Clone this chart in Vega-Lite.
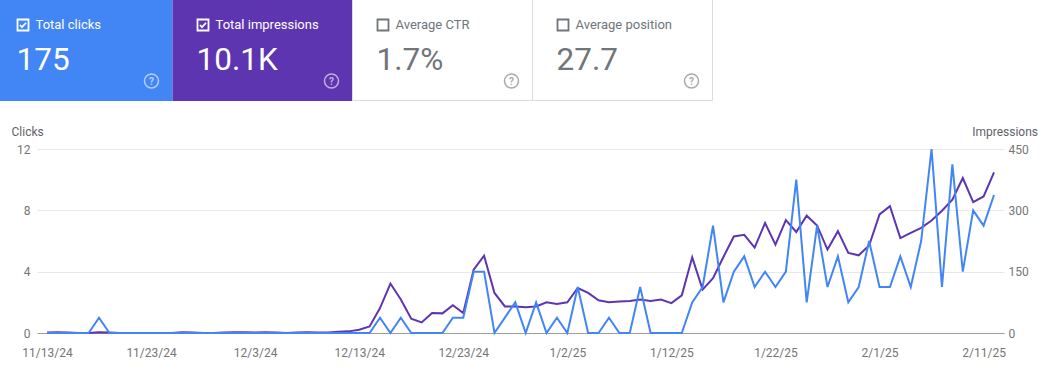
{
  "$schema": "https://vega.github.io/schema/vega-lite/v6.json",
  "padding": 0,
  "background": "white",
  "spacing": 24,
  "config": {"view": {"stroke": null}, "font": "Roboto"},
  "vconcat": [
    {
      "width": 713,
      "height": 101,
      "data": {"values": [
        {"card": "Total clicks", "value": "175", "state": "on"},
        {"card": "Total impressions", "value": "10.1K", "state": "on"},
        {"card": "Average CTR", "value": "1.7%", "state": "off"},
        {"card": "Average position", "value": "27.7", "state": "off"}
      ]},
      "encoding": {
        "x": {"field": "card", "type": "nominal", "sort": null, "axis": null,
              "scale": {"range": [-7.5, 712.5], "paddingInner": 0, "paddingOuter": 0}}
      },
      "layer": [
        {
          "mark": {"type": "rect", "clip": true},
          "encoding": {
            "fill": {"field": "card", "type": "nominal", "sort": null, "legend": null,
                     "scale": {"range": ["#4285f4", "#5e35b1", "#ffffff", "#ffffff"]}}
          }
        },
        {
          "transform": [{"filter": "datum.state === 'off'"}],
          "mark": {"type": "rect", "clip": true, "filled": false, "stroke": "#dadce0", "strokeWidth": 1, "y": -1, "y2": 100.5}
        },
        {
          "mark": {"type": "point", "shape": "square", "filled": false, "size": 121, "strokeWidth": 1.8, "xOffset": 30.5, "y": 25, "opacity": 1},
          "encoding": {
            "x": {"field": "card", "type": "nominal", "bandPosition": 0},
            "color": {"field": "state", "type": "nominal", "legend": null,
                      "scale": {"domain": ["on", "off"], "range": ["#ffffff", "#70757a"]}}
          }
        },
        {
          "transform": [{"filter": "datum.state === 'on'"}],
          "mark": {"type": "point", "shape": "M-0.6,0 L-0.2,0.42 L0.62,-0.45", "filled": false, "size": 100, "strokeWidth": 1.8, "xOffset": 30.5, "y": 25, "opacity": 1},
          "encoding": {
            "x": {"field": "card", "type": "nominal", "bandPosition": 0},
            "color": {"field": "state", "type": "nominal", "legend": null}
          }
        },
        {
          "mark": {"type": "text", "align": "left", "baseline": "alphabetic", "dx": 43, "y": 28.5, "fontSize": 13, "font": "Roboto"},
          "encoding": {
            "x": {"field": "card", "type": "nominal", "bandPosition": 0},
            "text": {"field": "card"},
            "color": {"field": "state", "type": "nominal", "legend": null}
          }
        },
        {
          "mark": {"type": "text", "align": "left", "baseline": "alphabetic", "dx": 24, "y": 70, "fontSize": 31.5, "font": "Roboto"},
          "encoding": {
            "x": {"field": "card", "type": "nominal", "bandPosition": 0},
            "text": {"field": "value"},
            "color": {"field": "state", "type": "nominal", "legend": null}
          }
        },
        {
          "mark": {"type": "point", "shape": "circle", "filled": false, "size": 196, "strokeWidth": 1.5, "xOffset": -21, "y": 81, "opacity": 0.6},
          "encoding": {
            "x": {"field": "card", "type": "nominal", "bandPosition": 1},
            "color": {"field": "state", "type": "nominal", "legend": null}
          }
        },
        {
          "mark": {"type": "text", "align": "center", "baseline": "middle", "dx": -21, "y": 81.5, "fontSize": 10, "fontWeight": "bold", "font": "Roboto", "text": "?", "opacity": 0.6},
          "encoding": {
            "x": {"field": "card", "type": "nominal", "bandPosition": 1},
            "color": {"field": "state", "type": "nominal", "legend": null}
          }
        }
      ]
    },
    {
      "spacing": 0,
      "hconcat": [
        {
          "width": 1,
          "height": 1,
          "data": {"values": []},
          "mark": "point",
          "encoding": {}
        },
        {
          "width": 967,
          "height": 184,
          "data": {"values": [
            {"date": "2024-11-13", "clicks": 0, "impressions": 1},
            {"date": "2024-11-14", "clicks": 0, "impressions": 2},
            {"date": "2024-11-15", "clicks": 0, "impressions": 1},
            {"date": "2024-11-16", "clicks": 0, "impressions": 0},
            {"date": "2024-11-17", "clicks": 0, "impressions": 0},
            {"date": "2024-11-18", "clicks": 1, "impressions": 2},
            {"date": "2024-11-19", "clicks": 0, "impressions": 1},
            {"date": "2024-11-20", "clicks": 0, "impressions": 0},
            {"date": "2024-11-21", "clicks": 0, "impressions": 0},
            {"date": "2024-11-22", "clicks": 0, "impressions": 0},
            {"date": "2024-11-23", "clicks": 0, "impressions": 0},
            {"date": "2024-11-24", "clicks": 0, "impressions": 0},
            {"date": "2024-11-25", "clicks": 0, "impressions": 0},
            {"date": "2024-11-26", "clicks": 0, "impressions": 2},
            {"date": "2024-11-27", "clicks": 0, "impressions": 1},
            {"date": "2024-11-28", "clicks": 0, "impressions": 0},
            {"date": "2024-11-29", "clicks": 0, "impressions": 0},
            {"date": "2024-11-30", "clicks": 0, "impressions": 1},
            {"date": "2024-12-01", "clicks": 0, "impressions": 2},
            {"date": "2024-12-02", "clicks": 0, "impressions": 2},
            {"date": "2024-12-03", "clicks": 0, "impressions": 1},
            {"date": "2024-12-04", "clicks": 0, "impressions": 2},
            {"date": "2024-12-05", "clicks": 0, "impressions": 1},
            {"date": "2024-12-06", "clicks": 0, "impressions": 0},
            {"date": "2024-12-07", "clicks": 0, "impressions": 1},
            {"date": "2024-12-08", "clicks": 0, "impressions": 2},
            {"date": "2024-12-09", "clicks": 0, "impressions": 1},
            {"date": "2024-12-10", "clicks": 0, "impressions": 1},
            {"date": "2024-12-11", "clicks": 0, "impressions": 3},
            {"date": "2024-12-12", "clicks": 0, "impressions": 4},
            {"date": "2024-12-13", "clicks": 0, "impressions": 8},
            {"date": "2024-12-14", "clicks": 0, "impressions": 16},
            {"date": "2024-12-15", "clicks": 1, "impressions": 61},
            {"date": "2024-12-16", "clicks": 0, "impressions": 121},
            {"date": "2024-12-17", "clicks": 1, "impressions": 82},
            {"date": "2024-12-18", "clicks": 0, "impressions": 35},
            {"date": "2024-12-19", "clicks": 0, "impressions": 26},
            {"date": "2024-12-20", "clicks": 0, "impressions": 49},
            {"date": "2024-12-21", "clicks": 0, "impressions": 48},
            {"date": "2024-12-22", "clicks": 1, "impressions": 68},
            {"date": "2024-12-23", "clicks": 1, "impressions": 49},
            {"date": "2024-12-24", "clicks": 4, "impressions": 155},
            {"date": "2024-12-25", "clicks": 4, "impressions": 189},
            {"date": "2024-12-26", "clicks": 0, "impressions": 98},
            {"date": "2024-12-27", "clicks": 1, "impressions": 65},
            {"date": "2024-12-28", "clicks": 2, "impressions": 65},
            {"date": "2024-12-29", "clicks": 0, "impressions": 63},
            {"date": "2024-12-30", "clicks": 2, "impressions": 65},
            {"date": "2024-12-31", "clicks": 0, "impressions": 75},
            {"date": "2025-01-01", "clicks": 1, "impressions": 71},
            {"date": "2025-01-02", "clicks": 0, "impressions": 75},
            {"date": "2025-01-03", "clicks": 3, "impressions": 110},
            {"date": "2025-01-04", "clicks": 0, "impressions": 98},
            {"date": "2025-01-05", "clicks": 0, "impressions": 80},
            {"date": "2025-01-06", "clicks": 1, "impressions": 75},
            {"date": "2025-01-07", "clicks": 0, "impressions": 77},
            {"date": "2025-01-08", "clicks": 0, "impressions": 78},
            {"date": "2025-01-09", "clicks": 3, "impressions": 82},
            {"date": "2025-01-10", "clicks": 0, "impressions": 78},
            {"date": "2025-01-11", "clicks": 0, "impressions": 82},
            {"date": "2025-01-12", "clicks": 0, "impressions": 73},
            {"date": "2025-01-13", "clicks": 0, "impressions": 92},
            {"date": "2025-01-14", "clicks": 2, "impressions": 185},
            {"date": "2025-01-15", "clicks": 3, "impressions": 106},
            {"date": "2025-01-16", "clicks": 7, "impressions": 134},
            {"date": "2025-01-17", "clicks": 2, "impressions": 186},
            {"date": "2025-01-18", "clicks": 4, "impressions": 236},
            {"date": "2025-01-19", "clicks": 5, "impressions": 240},
            {"date": "2025-01-20", "clicks": 3, "impressions": 209},
            {"date": "2025-01-21", "clicks": 4, "impressions": 269},
            {"date": "2025-01-22", "clicks": 3, "impressions": 216},
            {"date": "2025-01-23", "clicks": 4, "impressions": 276},
            {"date": "2025-01-24", "clicks": 10, "impressions": 247},
            {"date": "2025-01-25", "clicks": 2, "impressions": 287},
            {"date": "2025-01-26", "clicks": 7, "impressions": 263},
            {"date": "2025-01-27", "clicks": 3, "impressions": 204},
            {"date": "2025-01-28", "clicks": 5, "impressions": 249},
            {"date": "2025-01-29", "clicks": 2, "impressions": 196},
            {"date": "2025-01-30", "clicks": 3, "impressions": 190},
            {"date": "2025-01-31", "clicks": 6, "impressions": 214},
            {"date": "2025-02-01", "clicks": 3, "impressions": 290},
            {"date": "2025-02-02", "clicks": 3, "impressions": 310},
            {"date": "2025-02-03", "clicks": 5, "impressions": 232},
            {"date": "2025-02-04", "clicks": 3, "impressions": 245},
            {"date": "2025-02-05", "clicks": 6, "impressions": 257},
            {"date": "2025-02-06", "clicks": 12, "impressions": 275},
            {"date": "2025-02-07", "clicks": 3, "impressions": 299},
            {"date": "2025-02-08", "clicks": 11, "impressions": 326},
            {"date": "2025-02-09", "clicks": 4, "impressions": 379},
            {"date": "2025-02-10", "clicks": 8, "impressions": 320},
            {"date": "2025-02-11", "clicks": 7, "impressions": 334},
            {"date": "2025-02-12", "clicks": 9, "impressions": 393}
          ]},
          "encoding": {
            "x": {
              "field": "date", "type": "temporal",
              "scale": {"type": "utc", "padding": 10, "nice": false},
              "axis": {
                "title": null,
                "values": [
                  {"year": 2024, "month": 11, "date": 13, "utc": true},
                  {"year": 2024, "month": 11, "date": 23, "utc": true},
                  {"year": 2024, "month": 12, "date": 3, "utc": true},
                  {"year": 2024, "month": 12, "date": 13, "utc": true},
                  {"year": 2024, "month": 12, "date": 23, "utc": true},
                  {"year": 2025, "month": 1, "date": 2, "utc": true},
                  {"year": 2025, "month": 1, "date": 12, "utc": true},
                  {"year": 2025, "month": 1, "date": 22, "utc": true},
                  {"year": 2025, "month": 2, "date": 1, "utc": true},
                  {"year": 2025, "month": 2, "date": 11, "utc": true}
                ],
                "format": "%-m/%-d/%y",
                "labelFont": "Roboto", "labelFontSize": 12, "labelColor": "#757575",
                "labelPadding": 14, "labelFlush": false, "labelOverlap": false,
                "ticks": false, "grid": false,
                "domain": true, "domainColor": "#9e9e9e", "domainWidth": 1
              }
            }
          },
          "layer": [
            {
              "mark": {"type": "line", "color": "#5e35b1", "strokeWidth": 2},
              "encoding": {
                "y": {
                  "field": "impressions", "type": "quantitative",
                  "scale": {"domain": [0, 450], "nice": false},
                  "axis": {
                    "orient": "right", "values": [0, 150, 300, 450],
                    "title": "Impressions", "titleAngle": 0, "titleAlign": "right", "titleBaseline": "middle",
                    "titleX": 33.5, "titleY": -18, "titleFont": "Roboto", "titleFontSize": 12, "titleFontWeight": "normal", "titleColor": "#5f6368",
                    "labelFont": "Roboto", "labelFontSize": 12, "labelColor": "#757575", "labelPadding": 4,
                    "ticks": false, "domain": false, "grid": false
                  }
                }
              }
            },
            {
              "mark": {"type": "line", "color": "#4285f4", "strokeWidth": 2},
              "encoding": {
                "y": {
                  "field": "clicks", "type": "quantitative",
                  "scale": {"domain": [0, 12], "nice": false},
                  "axis": {
                    "orient": "left", "values": [0, 4, 8, 12],
                    "title": "Clicks", "titleAngle": 0, "titleAlign": "left", "titleBaseline": "middle",
                    "titleX": -26, "titleY": -18, "titleFont": "Roboto", "titleFontSize": 12, "titleFontWeight": "normal", "titleColor": "#5f6368",
                    "labelFont": "Roboto", "labelFontSize": 12, "labelColor": "#757575",
                    "ticks": true, "tickSize": 35, "tickColor": "transparent", "labelPadding": -28,
                    "domain": false, "grid": true, "gridColor": "#e8e8e8", "gridWidth": 1
                  }
                }
              }
            }
          ],
          "resolve": {"scale": {"y": "independent"}}
        }
      ]
    }
  ]
}
